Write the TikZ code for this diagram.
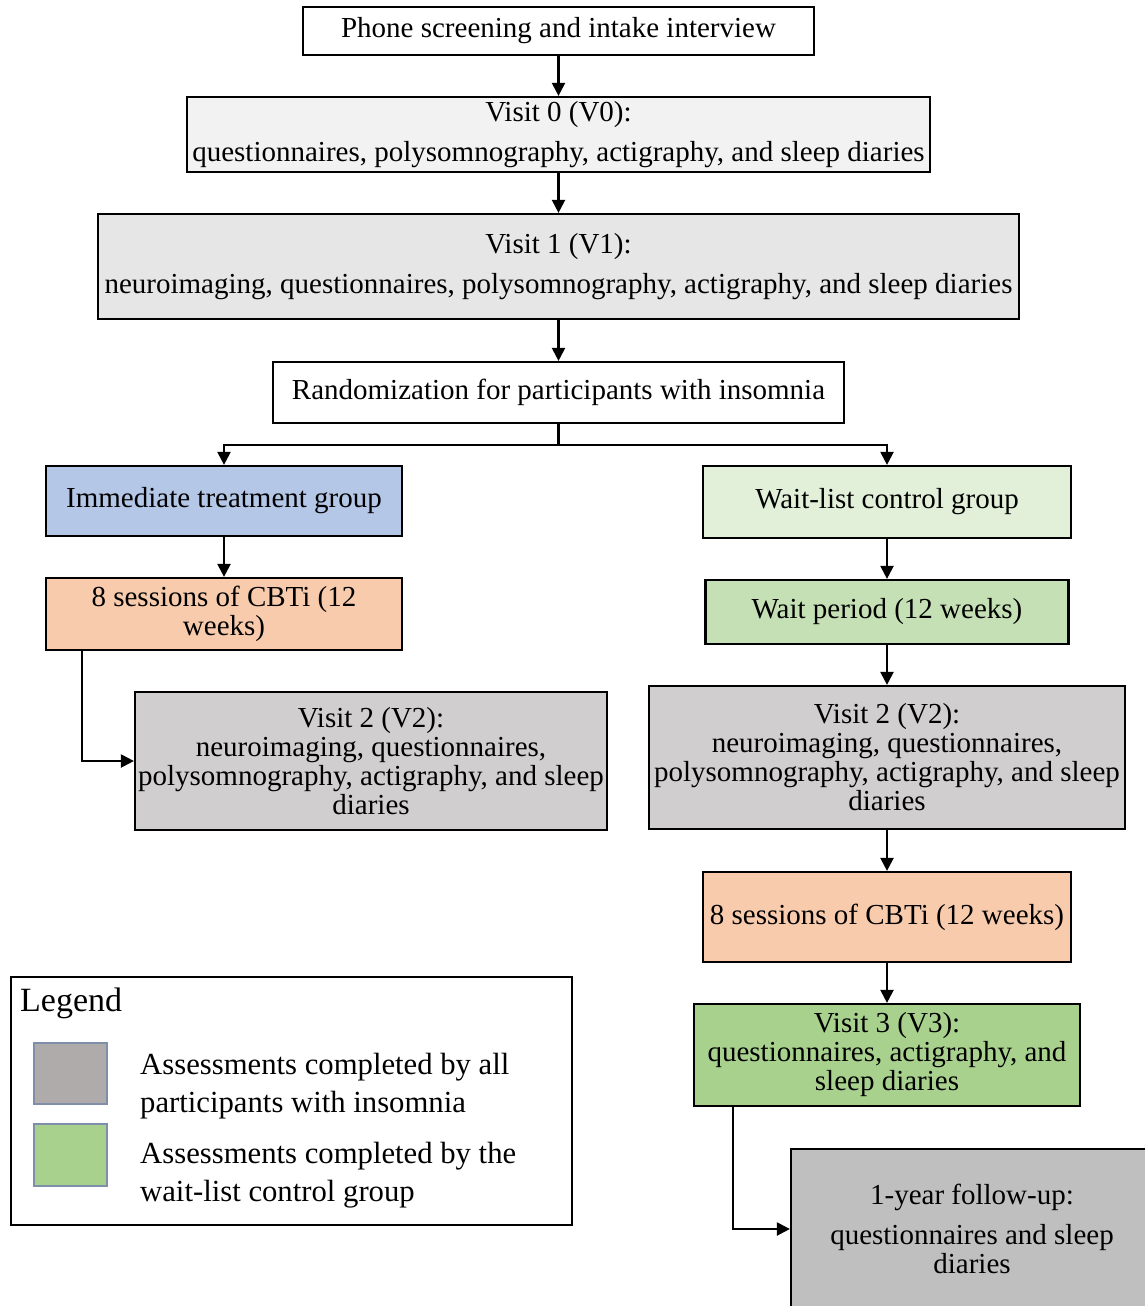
\documentclass[tikz,border=0pt]{standalone}
\usepackage{fontspec}
\setmainfont{Liberation Serif}
\usetikzlibrary{arrows.meta}
\definecolor{cVzero}{HTML}{F2F2F2}
\definecolor{cVone}{HTML}{E7E6E6}
\definecolor{cBlue}{HTML}{B4C7E7}
\definecolor{cPeach}{HTML}{F8CBAD}
\definecolor{cGrayB}{HTML}{D0CECE}
\definecolor{cGreenA}{HTML}{E2F0D9}
\definecolor{cGreenB}{HTML}{C5E0B4}
\definecolor{cGreenC}{HTML}{A9D18E}
\definecolor{cGrayC}{HTML}{BFBFBF}
\definecolor{cLegGray}{HTML}{AFABAB}
\definecolor{cLegEdge}{HTML}{7F8FA9}
\begin{document}
\begin{tikzpicture}[x=1pt,y=-1pt,
  box/.style={draw=black, line width=2.2pt, rectangle, align=center, inner sep=2pt,
    font=\fontsize{29}{29}\selectfont},
  arr/.style={line width=2.2pt, -{Triangle[length=13pt,width=13pt]}},
  conn/.style={line width=2.2pt},
  swatch/.style={draw=cLegEdge, line width=1.4pt, rectangle},
  legtext/.style={align=left, anchor=west, inner sep=0pt, font=\fontsize{30.7}{38}\selectfont}
]
\clip (0,0) rectangle (1145,1306);
\fill[white] (0,0) rectangle (1145,1306);

\node[box, fill=white, minimum width=511pt, minimum height=48pt] (phone) at (558.5,31) {Phone screening and intake interview};
\node[box, fill=cVzero, minimum width=743pt, minimum height=75pt] (v0) at (558.5,134.5) {Visit 0 (V0):\\[11pt]questionnaires, polysomnography, actigraphy, and sleep diaries};
\node[box, fill=cVone, minimum width=921pt, minimum height=105pt] (v1) at (558.5,266.5) {Visit 1 (V1):\\[11pt]neuroimaging, questionnaires, polysomnography, actigraphy, and sleep diaries};
\node[box, fill=white, minimum width=571pt, minimum height=61pt] (rand) at (558.5,392.5) {Randomization for participants with insomnia};

\node[box, fill=cBlue, minimum width=356pt, minimum height=70pt] (imm) at (224,501) {Immediate treatment group};
\node[box, fill=cPeach, minimum width=356pt, minimum height=72pt] (cbtiL) at (224,614) {8 sessions of CBTi (12\\weeks)};
\node[box, fill=cGrayB, minimum width=472pt, minimum height=138pt] (v2L) at (371,761) {Visit 2 (V2):\\neuroimaging, questionnaires,\\polysomnography, actigraphy, and sleep\\diaries};

\node[box, fill=cGreenA, minimum width=368pt, minimum height=72pt] (wait) at (887,502) {Wait-list control group};
\node[box, fill=cGreenB, minimum width=363pt, minimum height=64pt] (wper) at (887,612) {Wait period (12 weeks)};
\node[box, fill=cGrayB, minimum width=476pt, minimum height=143pt] (v2R) at (887,757.5) {Visit 2 (V2):\\neuroimaging, questionnaires,\\polysomnography, actigraphy, and sleep\\diaries};
\node[box, fill=cPeach, minimum width=368pt, minimum height=90pt] (cbtiR) at (887,917) {8 sessions of CBTi (12 weeks)};
\node[box, fill=cGreenC, minimum width=386pt, minimum height=102pt] (v3) at (887,1055) {Visit 3 (V3):\\questionnaires, actigraphy, and\\sleep diaries};
\node[box, fill=cGrayC, minimum width=362pt, minimum height=160pt] (fup) at (972,1229) {1-year follow-up:\\[11pt]questionnaires and sleep\\diaries};

% connectors
\draw[arr] (phone) -- (v0);
\draw[arr] (v0) -- (v1);
\draw[arr] (v1) -- (rand);
\coordinate (br) at (558.5,445);
\draw[conn] (rand) -- (br);
\draw[arr] (br) -| (imm.north);
\draw[arr] (br) -| (wait.north);
\draw[arr] (imm) -- (cbtiL);
\draw[arr] ([xshift=-142pt]cbtiL.south) |- (v2L.west);
\draw[arr] (wait) -- (wper);
\draw[arr] (wper) -- (v2R);
\draw[arr] (v2R) -- (cbtiR);
\draw[arr] (cbtiR) -- (v3);
\draw[arr] ([xshift=-154pt]v3.south) |- (fup.west);

% legend
\node[draw=black, line width=1.4pt, rectangle, minimum width=561pt, minimum height=248pt] (legend) at (291.5,1101) {};
\node[anchor=west, inner sep=0pt, font=\fontsize{34}{38}\selectfont] (legtitle) at (20,1003) {Legend};
\node[swatch, fill=cLegGray, minimum width=73pt, minimum height=61pt] (swA) at (70.5,1073.5) {};
\node[swatch, fill=cGreenC, minimum width=73pt, minimum height=62pt] (swB) at (70.5,1155) {};
\node[legtext] (legA) at (140,1086) {Assessments completed by all\\participants with insomnia};
\node[legtext] (legB) at (140,1175) {Assessments completed by the\\wait-list control group};
\end{tikzpicture}
\end{document}
